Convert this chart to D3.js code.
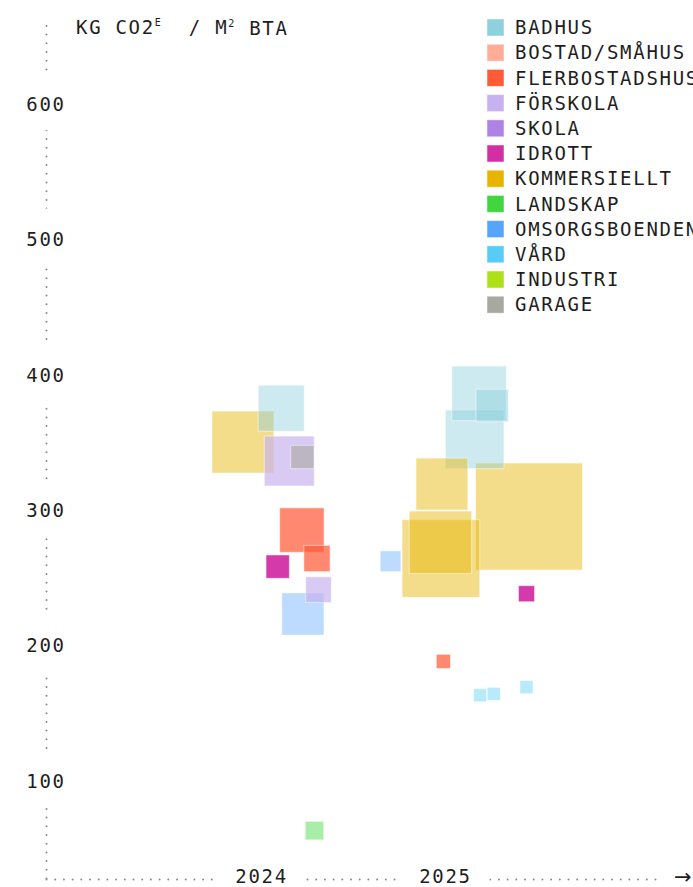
<!DOCTYPE html>
<html>
<head>
<meta charset="utf-8">
<script src="https://cdn.jsdelivr.net/npm/d3@7"></script>
<style>
body { margin: 0; background: #fff; }
svg text {
  font-family: "DejaVu Sans Mono", monospace;
  font-size: 19px;
  fill: #1e1e1e;
  letter-spacing: 1.7px;
}
.axis .domain {
  stroke: #8a8a8a;
  stroke-width: 2;
  stroke-linecap: round;
  stroke-dasharray: 0 8.7;
}
.sq {
  stroke: #fff;
  stroke-opacity: 0.5;
  stroke-width: 1;
}
</style>
</head>
<body>
<svg width="693" height="887"></svg>
<script>
// categories (legend order)
var categories = ["BADHUS", "BOSTAD/SMÅHUS", "FLERBOSTADSHUS", "FÖRSKOLA", "SKOLA", "IDROTT",
  "KOMMERSIELLT", "LANDSKAP", "OMSORGSBOENDEN", "VÅRD", "INDUSTRI", "GARAGE"];

// one entry per project
var projectCategory = ["KOMMERSIELLT", "BADHUS", "FÖRSKOLA", "GARAGE", "FLERBOSTADSHUS", "FLERBOSTADSHUS",
  "IDROTT", "FÖRSKOLA", "OMSORGSBOENDEN", "LANDSKAP",
  "BADHUS", "BADHUS", "BADHUS", "KOMMERSIELLT", "KOMMERSIELLT", "KOMMERSIELLT", "KOMMERSIELLT",
  "OMSORGSBOENDEN", "IDROTT", "FLERBOSTADSHUS", "VÅRD", "VÅRD", "VÅRD"];
var projectDate = ["2024-05-26", "2024-08-10", "2024-08-26", "2024-09-21", "2024-09-20", "2024-10-20",
  "2024-08-03", "2024-10-23", "2024-09-22", "2024-10-15",
  "2025-09-07", "2025-10-03", "2025-08-29", "2025-06-25", "2025-06-22", "2025-06-23", "2025-12-15",
  "2025-03-15", "2025-12-10", "2025-06-28", "2025-09-09", "2025-10-06", "2025-12-10"];
// kg CO2e / m2 BTA
var projectValue = [350, 375, 336, 339, 285, 264,
  258, 241, 223, 63,
  386, 377, 352, 319, 276, 264, 295,
  262, 238, 188, 163, 164, 169];
// m2 BTA (square area)
var projectArea = [13400, 7400, 8700, 1900, 6900, 2400,
  1900, 2300, 6200, 1200,
  10400, 3700, 12000, 9400, 13600, 21100, 40000,
  1500, 900, 700, 600, 600, 600];

var yTicks = [100, 200, 300, 400, 500, 600];
var xTickYears = [2024, 2025];

var colors = ["#8ed0dc", "#ffad99", "#ff5b39", "#c7b1ef", "#ae83e5", "#d22fa4",
  "#e7b400", "#3fd63f", "#57a4fd", "#57ccf5", "#ace017", "#a9a8a0"];
var fillOpacity = {"BADHUS": 0.45, "FLERBOSTADSHUS": 0.72, "FÖRSKOLA": 0.68, "IDROTT": 0.95,
  "KOMMERSIELLT": 0.46, "LANDSKAP": 0.45, "OMSORGSBOENDEN": 0.4, "VÅRD": 0.42, "GARAGE": 0.6};

var parse = d3.timeParse("%Y-%m-%d");
var data = projectCategory.map(function(c, i) {
  return {cat: c, date: parse(projectDate[i]), value: projectValue[i], area: projectArea[i]};
}).sort(function(a, b) { return b.area - a.area; });

var svg = d3.select("svg");

var x = d3.scaleTime()
    .domain([new Date(2023, 4, 1), new Date(2026, 8, 1)])
    .range([46, 660]);

var y = d3.scaleLinear()
    .domain([28, 664])
    .range([878, 17]);

var size = d3.scaleSqrt()
    .domain([0, 40000])
    .range([0, 107]);

var color = d3.scaleOrdinal().domain(categories).range(colors);

// y axis: dotted line, labels centered on it
var yAxis = svg.append("g")
    .attr("class", "axis")
    .attr("transform", "translate(46,0)")
    .call(d3.axisLeft(y).tickValues(yTicks).tickSize(0).tickSizeOuter(0));
yAxis.selectAll(".tick text").remove();
yAxis.selectAll(".tick").each(function(d) {
  var t = d3.select(this);
  t.append("rect")
    .attr("x", -24).attr("y", -31)
    .attr("width", 48).attr("height", 57)
    .attr("fill", "#fff");
  t.append("text")
    .attr("x", 0)
    .attr("dy", "0.35em")
    .attr("text-anchor", "middle")
    .text(d);
});
yAxis.attr("font-family", null).attr("font-size", null);

// x axis
var xAxis = svg.append("g")
    .attr("class", "axis")
    .attr("transform", "translate(0,879)")
    .call(d3.axisBottom(x)
      .tickValues(xTickYears.map(function(yr) { return new Date(yr, 6, 1); }))
      .tickSize(0).tickSizeOuter(0));
xAxis.selectAll(".tick text").remove();
xAxis.selectAll(".tick").each(function(d) {
  var t = d3.select(this);
  t.append("rect")
    .attr("x", -44).attr("y", -12)
    .attr("width", 88).attr("height", 20)
    .attr("fill", "#fff");
  t.append("text")
    .attr("y", -3)
    .attr("dy", "0.35em")
    .attr("text-anchor", "middle")
    .text(d.getFullYear());
});
xAxis.attr("font-family", null).attr("font-size", null);

svg.append("text")
    .attr("x", 674)
    .attr("y", 877)
    .attr("dy", "0.33em")
    .style("font-family", "DejaVu Sans")
    .style("font-size", "21px")
    .style("letter-spacing", "0")
    .text("→");

// axis title
var title = svg.append("text")
    .attr("x", 76)
    .attr("y", 27)
    .attr("dy", "0.35em")
    .style("white-space", "pre");
title.append("tspan").text("KG CO2");
title.append("tspan").attr("dy", "-0.75em").style("font-size", "10px").text("E");
title.append("tspan").attr("dy", "0.42em").text("  / M");
title.append("tspan").style("font-size", "10px").attr("dy", "-0.75em").text("2");
title.append("tspan").attr("dy", "0.42em").text(" BTA");

// squares
svg.append("g")
  .selectAll("rect")
  .data(data)
  .enter().append("rect")
    .attr("class", "sq")
    .attr("x", function(d) { return x(d.date) - size(d.area) / 2; })
    .attr("y", function(d) { return y(d.value) - size(d.area) / 2; })
    .attr("width", function(d) { return size(d.area); })
    .attr("height", function(d) { return size(d.area); })
    .attr("fill", function(d) { return color(d.cat); })
    .attr("fill-opacity", function(d) { return fillOpacity[d.cat] || 0.5; });

// legend
var legend = svg.append("g")
    .attr("transform", "translate(487,19)")
  .selectAll("g")
  .data(categories)
  .enter().append("g")
    .attr("transform", function(d, i) { return "translate(0," + i * 25.2 + ")"; });

legend.append("rect")
    .attr("width", 17)
    .attr("height", 17)
    .attr("fill", color)
    .attr("stroke", "#fff")
    .attr("stroke-opacity", 0.5);

legend.append("text")
    .attr("x", 28)
    .attr("y", 8.5)
    .attr("dy", "0.35em")
    .text(function(d) { return d; });
</script>
</body>
</html>
